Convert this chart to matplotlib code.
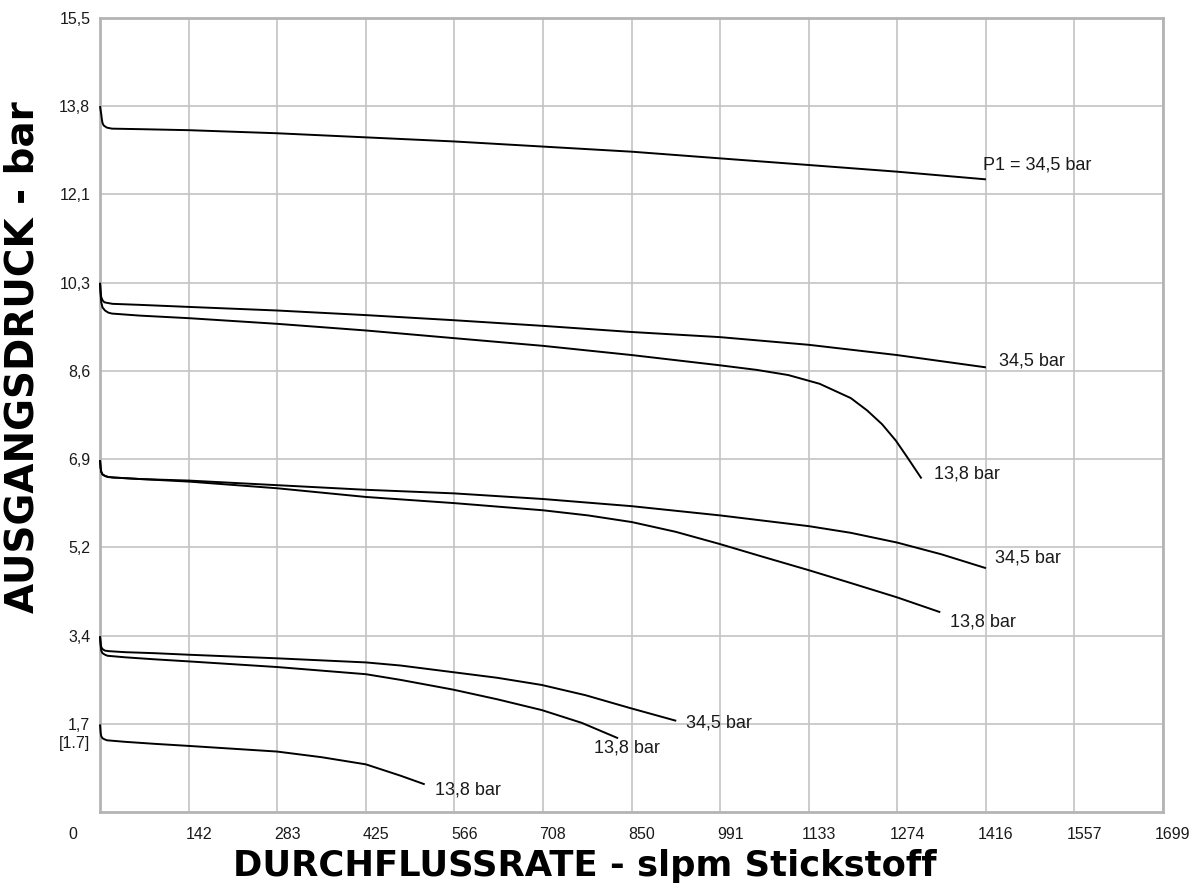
import matplotlib
matplotlib.use("Agg")
import matplotlib.pyplot as plt
import matplotlib.transforms as mtrans
import numpy as np

plt.rcParams['font.family'] = ['Liberation Sans', 'DejaVu Sans']

# X-Achse: Durchfluss (slpm), Y-Achse: Ausgangsdruck (bar)
x_ticks = ['0', '142', '283', '425', '566', '708', '850', '991', '1133', '1274', '1416', '1557', '1699']
y_ticks = ['1,7', '3,4', '5,2', '6,9', '8,6', '10,3', '12,1', '13,8', '15,5']

# Kurve 1: P2 ~13,8 bar, P1 = 34,5 bar
c1_x = [0, 2, 3, 4, 6, 11, 19, 64, 142, 283, 425, 566, 708, 850, 991, 1133, 1274, 1416]
c1_y = [13.78, 13.62, 13.52, 13.45, 13.40, 13.36, 13.34, 13.33, 13.31, 13.25, 13.17, 13.09, 12.99, 12.89, 12.76, 12.63, 12.50, 12.35]

# Kurven 2/3: P2 ~10,3 bar
c2_x = [0, 1, 2, 4, 7, 11, 20, 64, 142, 283, 425, 566, 708, 850, 991, 1133, 1274, 1416]
c2_y = [10.33, 10.15, 10.05, 9.99, 9.95, 9.94, 9.92, 9.90, 9.86, 9.79, 9.70, 9.60, 9.49, 9.37, 9.27, 9.12, 8.92, 8.68]
c3_x = [0, 1, 2, 4, 8, 13, 19, 64, 142, 283, 425, 566, 708, 850, 991, 1050, 1100, 1150,
        1200, 1226, 1250, 1272, 1290, 1313]
c3_y = [10.33, 10.10, 9.95, 9.85, 9.79, 9.75, 9.73, 9.69, 9.64, 9.53, 9.40, 9.25, 9.10, 8.92, 8.72, 8.63, 8.53, 8.36,
        8.08, 7.84, 7.57, 7.25, 6.93, 6.51]

# Kurven 4/5: P2 ~6,9 bar
c4_x = [0, 1, 2, 4, 8, 13, 21, 64, 142, 283, 425, 566, 708, 850, 991, 1133, 1200, 1274, 1345, 1416]
c4_y = [6.87, 6.72, 6.64, 6.59, 6.56, 6.54, 6.53, 6.50, 6.47, 6.38, 6.29, 6.22, 6.11, 5.97, 5.79, 5.58, 5.45, 5.26, 5.03, 4.76]
c5_x = [0, 1, 2, 4, 8, 13, 21, 64, 142, 283, 425, 566, 708, 780, 850, 920, 991, 1060, 1133, 1200, 1274, 1343]
c5_y = [6.87, 6.72, 6.64, 6.59, 6.56, 6.54, 6.53, 6.50, 6.45, 6.32, 6.15, 6.03, 5.89, 5.79, 5.66, 5.47, 5.23, 4.98, 4.72, 4.47, 4.19, 3.90]

# Kurven 6/7: P2 ~3,4 bar
c6_x = [0, 1, 2, 4, 8, 14, 40, 88, 142, 283, 425, 480, 564, 635, 706, 776, 847, 921]
c6_y = [3.43, 3.30, 3.22, 3.18, 3.15, 3.14, 3.12, 3.10, 3.07, 3.00, 2.92, 2.86, 2.73, 2.62, 2.48, 2.28, 2.03, 1.78]
c7_x = [0, 1, 2, 4, 8, 12, 40, 88, 142, 283, 425, 480, 564, 635, 706, 770, 828]
c7_y = [3.43, 3.25, 3.15, 3.10, 3.07, 3.05, 3.02, 2.98, 2.94, 2.83, 2.69, 2.58, 2.39, 2.20, 1.99, 1.74, 1.44]

# Kurve 8: P2 ~1,7 bar
c8_x = [0, 1, 2, 4, 7, 11, 40, 88, 142, 283, 354, 425, 480, 519]
c8_y = [1.71, 1.55, 1.48, 1.44, 1.42, 1.40, 1.37, 1.33, 1.29, 1.18, 1.07, 0.93, 0.71, 0.54]

curves = [(c1_x, c1_y), (c2_x, c2_y), (c3_x, c3_y), (c4_x, c4_y),
          (c5_x, c5_y), (c6_x, c6_y), (c7_x, c7_y), (c8_x, c8_y)]
labels = ['P1 = 34,5 bar', '34,5 bar', '13,8 bar', '34,5 bar',
          '13,8 bar', '34,5 bar', '13,8 bar', '13,8 bar']
# label offsets from curve end, in pixels
offsets = [(-3, 14), (13, 6), (13, 5), (9, 10), (10, -10), (10, -2), (-24, -10), (10, -6)]

fig = plt.figure(figsize=(12.03, 8.93), dpi=100)
ax = fig.add_axes([100 / 1203, 81 / 893, 1063 / 1203, 794 / 893])

xmax = 1699
ymax = 15.5
xpos = np.arange(len(x_ticks)) * xmax / (len(x_ticks) - 1)
ypos = np.arange(1, len(y_ticks) + 1) * ymax / len(y_ticks)

ax.set_xlim(0, xmax)
ax.set_ylim(0, ymax)
ax.set_xticks(xpos)
ax.set_xticklabels(x_ticks)
ax.set_yticks(ypos)
ax.set_yticklabels(y_ticks)
ax.grid(True, color='#c3c3c3', lw=1.2)
ax.set_axisbelow(True)
for s in ax.spines.values():
    s.set_color('#b4b4b4')
    s.set_linewidth(2)
ax.tick_params(length=0, labelsize=11.5, colors='#1a1a1a')
ax.tick_params(axis='x', pad=10.5)
ax.tick_params(axis='y', pad=7)

# shift x tick labels to the right of the gridlines, "0" to the left
for i, lab in enumerate(ax.get_xticklabels()):
    dx = -27 if i == 0 else 10
    lab.set_transform(lab.get_transform() + mtrans.ScaledTranslation(dx / 100, 0, fig.dpi_scale_trans))

ax.annotate('[1.7]', xy=(0, ypos[0]), xycoords=('axes fraction', 'data'),
            xytext=(-10, -20), textcoords='offset pixels', ha='right', va='center',
            fontsize=11.5, color='#1a1a1a')

for (cx, cy), txt, off in zip(curves, labels, offsets):
    # lines above the spines so the start hooks stay visible
    ax.plot(cx, cy, color='black', lw=1.4, solid_capstyle='butt', solid_joinstyle='round',
            zorder=3, clip_on=False)
    ax.annotate(txt, xy=(cx[-1], cy[-1]), xytext=off, textcoords='offset pixels',
                ha='left', va='center', fontsize=13, color='#1a1a1a')

fig.text(585 / 1203, 1 - 866 / 893, 'DURCHFLUSSRATE - slpm Stickstoff', ha='center', va='center',
         fontsize=25.5, fontweight='bold', family='DejaVu Sans')
fig.text(23 / 1203, 1 - 357 / 893, 'AUSGANGSDRUCK - bar', ha='center', va='center', rotation=90,
         fontsize=28, fontweight='bold', family='DejaVu Sans')

fig.savefig('out.png', dpi=100)
